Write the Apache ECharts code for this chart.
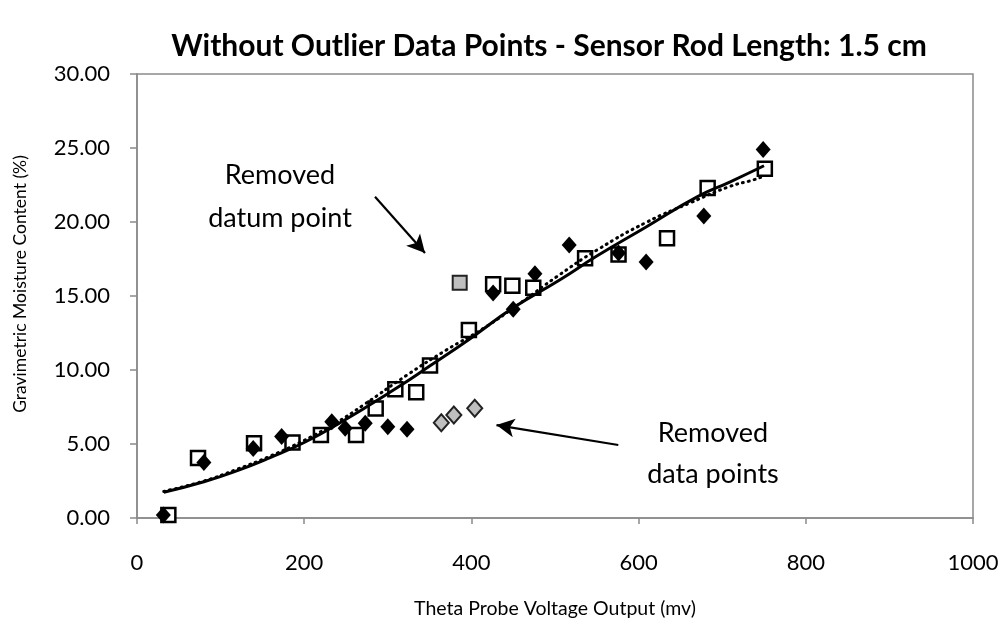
<!DOCTYPE html>
<html>
<head>
<meta charset="utf-8">
<script src="https://cdn.jsdelivr.net/npm/echarts@6/dist/echarts.min.js"></script>
<style>
  html, body { margin: 0; padding: 0; background: #fff; }
  #chart { width: 1003px; height: 625px; }
</style>
</head>
<body>
<div id="chart"></div>
<script>
// measured points (mv, %)
const squares = [
  [37.5, 0.2], [73, 4.05], [140, 5.05], [186, 5.1], [220, 5.6], [262, 5.6],
  [285.5, 7.4], [309, 8.7], [334, 8.5], [350.5, 10.3], [397, 12.7], [426, 15.8],
  [449, 15.7], [474, 15.56], [536, 17.55], [576, 17.8], [634, 18.9], [682.6, 22.3],
  [751, 23.6]
]
const diamonds = [
  [31.5, 0.2], [80, 3.75], [139, 4.7], [173, 5.5], [233, 6.5], [249, 6.06],
  [273, 6.4], [300, 6.17], [323, 6.0], [426, 15.2], [450, 14.1], [476, 16.5],
  [517, 18.45], [576, 17.9], [609, 17.3], [678, 20.4], [749, 24.9]
]
const removedSquare = [[386, 15.9]]
const removedDiamonds = [[364, 6.44], [379, 6.96], [404, 7.41]]

// trend lines
const solidTrend = [
  [32, 1.74], [80, 2.45], [120, 3.2], [160, 4.1], [200, 5.1], [239, 6.3],
  [311, 8.8], [351, 10.3], [398, 12.1], [450, 14.2], [506, 16.1], [550, 17.7],
  [610, 19.7], [670, 21.7], [709, 22.7], [750, 23.8]
]
const dottedTrend = [
  [32, 1.8], [80, 2.5], [120, 3.3], [160, 4.2], [200, 5.25], [240, 6.5],
  [271, 7.64], [323, 9.66], [370, 11.35], [414, 12.8], [458, 14.5], [502, 16.3],
  [550, 18.1], [610, 20.0], [662, 21.3], [709, 22.4], [737, 22.84], [750, 23.1]
]

// annotation arrows in data coords
const arrowDatum = [[284.7, 21.7], [344.5, 17.9]]
const arrowData = [[575.7, 4.93], [430, 6.28]]

const font = 'Lato, "Open Sans", sans-serif'
const chart = echarts.init(document.getElementById('chart'))

chart.setOption({
  animation: false,
  backgroundColor: '#fff',
  title: {
    text: 'Without Outlier Data Points - Sensor Rod Length: 1.5 cm',
    left: 544,
    top: 26,
    textAlign: 'center',
    textStyle: { fontFamily: font, fontSize: 30, fontWeight: 'bold', color: '#000' }
  },
  grid: {
    left: 137, right: 30, top: 74, bottom: 107,
    show: true, borderColor: '#8a8a8a', borderWidth: 1.5
  },
  xAxis: {
    type: 'value',
    min: 0, max: 1000, interval: 200,
    name: 'Theta Probe Voltage Output (mv)',
    nameLocation: 'middle',
    nameGap: 81,
    nameTextStyle: { fontFamily: font, fontSize: 19.5, color: '#000' },
    axisLine: { lineStyle: { color: '#8a8a8a', width: 1.5 } },
    axisTick: { show: true, length: 6, lineStyle: { color: '#8a8a8a', width: 1.5 } },
    axisLabel: { fontFamily: font, fontSize: 22, color: '#000', margin: 34, formatter: v => String(v) },
    splitLine: { show: false }
  },
  yAxis: {
    type: 'value',
    min: 0, max: 30, interval: 5,
    axisLine: { lineStyle: { color: '#8a8a8a', width: 1.5 } },
    axisTick: { show: true, length: 7, lineStyle: { color: '#8a8a8a', width: 1.5 } },
    axisLabel: {
      fontFamily: font, fontSize: 22, color: '#000', margin: 27,
      formatter: v => v.toFixed(2)
    },
    splitLine: { show: false }
  },
  graphic: [
    {
      // y axis title, sits a bit above the plot middle like the original
      type: 'text', x: 20, y: 284, rotation: Math.PI / 2,
      style: {
        text: 'Gravimetric Moisture Content (%)', fontFamily: font, fontSize: 17.5, fill: '#000',
        align: 'center', verticalAlign: 'middle'
      }
    },
    {
      type: 'text', x: 280, y: 197,
      style: {
        text: 'Removed\ndatum point', fontFamily: font, fontSize: 27, fill: '#000',
        align: 'center', verticalAlign: 'middle', lineHeight: 43
      }
    },
    {
      type: 'text', x: 713, y: 454,
      style: {
        text: 'Removed\ndata points', fontFamily: font, fontSize: 27, fill: '#000',
        align: 'center', verticalAlign: 'middle', lineHeight: 41
      }
    }
  ],
  series: [
    {
      type: 'scatter', data: squares, symbol: 'rect', symbolSize: 14, z: 2,
      itemStyle: { color: '#fff', borderColor: '#000', borderWidth: 2.5, opacity: 1 }
    },
    {
      type: 'scatter', data: removedSquare, symbol: 'rect', symbolSize: 14, z: 2,
      itemStyle: { color: '#bfbfbf', borderColor: '#222', borderWidth: 2, opacity: 1 }
    },
    {
      type: 'scatter', data: diamonds, symbol: 'diamond', symbolSize: [15, 17], z: 3,
      itemStyle: { color: '#000', opacity: 1 }
    },
    {
      type: 'scatter', data: removedDiamonds, symbol: 'diamond', symbolSize: [15, 17], z: 3,
      itemStyle: { color: '#bfbfbf', borderColor: '#222', borderWidth: 2, opacity: 1 }
    },
    {
      type: 'line', data: solidTrend, smooth: true, showSymbol: false, z: 4,
      lineStyle: { color: '#000', width: 3 }
    },
    {
      type: 'line', data: dottedTrend, smooth: true, showSymbol: false, z: 4,
      lineStyle: { color: '#000', width: 3, type: [1, 5], cap: 'round' }
    },
    {
      type: 'line', data: [], z: 5,
      markLine: {
        silent: true,
        symbol: ['none', 'arrow'],
        symbolSize: [14, 18],
        label: { show: false },
        lineStyle: { color: '#000', width: 2.2, type: 'solid' },
        data: [
          [{ coord: arrowDatum[0] }, { coord: arrowDatum[1] }],
          [{ coord: arrowData[0] }, { coord: arrowData[1] }]
        ]
      }
    }
  ]
})
</script>
</body>
</html>
